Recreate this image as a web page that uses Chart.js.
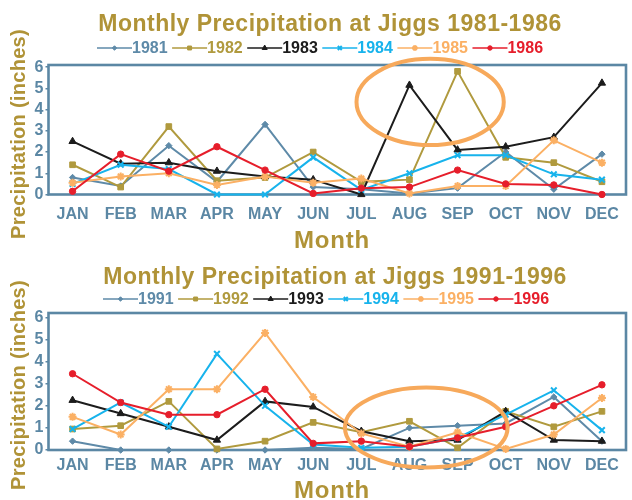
<!DOCTYPE html>
<html>
<head>
<meta charset="utf-8">
<script src="https://cdn.jsdelivr.net/npm/chart.js@4.4.1/dist/chart.umd.min.js"></script>
<style>
  html, body { margin: 0; padding: 0; background: #ffffff; }
  #wrap { position: relative; width: 632px; height: 500px; overflow: hidden; }
  #wrap canvas { position: absolute; left: 0; top: 0; }
</style>
</head>
<body>
<div id="wrap">
  <canvas id="early" width="632" height="500"></canvas>
  <canvas id="late" width="632" height="500"></canvas>
</div>
<script>
// Month labels and y-axis ticks
const months = ['JAN','FEB','MAR','APR','MAY','JUN','JUL','AUG','SEP','OCT','NOV','DEC'];
const yTicks = [0, 1, 2, 3, 4, 5, 6];

// Monthly precipitation (inches), 1981-1986
const years1 = ['1981','1982','1983','1984','1985','1986'];
const p1981 = [0.80, 0.40, 2.30, 0.60, 3.30, 0.35, 0.25, 0.05, 0.30, 2.00, 0.25, 1.90];
const p1982 = [1.40, 0.35, 3.20, 0.65, 0.80, 2.00, 0.60, 0.70, 5.80, 1.75, 1.50, 0.60];
const p1983 = [2.50, 1.45, 1.50, 1.10, 0.85, 0.70, 0.00, 5.15, 2.10, 2.25, 2.70, 5.25];
const p1984 = [0.50, 1.40, 1.20, 0.00, 0.00, 1.75, 0.22, 1.00, 1.85, 1.85, 0.95, 0.70];
const p1985 = [0.55, 0.85, 1.00, 0.45, 0.85, 0.55, 0.75, 0.05, 0.40, 0.40, 2.55, 1.50];
const p1986 = [0.15, 1.90, 1.10, 2.25, 1.15, 0.05, 0.30, 0.35, 1.15, 0.50, 0.45, 0.00];

// Monthly precipitation (inches), 1991-1996
const years2 = ['1991','1992','1993','1994','1995','1996'];
const p1991 = [0.40, 0.00, 0.00, 0.00, 0.00, 0.10, 0.05, 1.00, 1.10, 1.20, 2.40, 0.40];
const p1992 = [0.95, 1.10, 2.20, 0.05, 0.40, 1.25, 0.80, 1.30, 0.10, 1.75, 1.05, 1.75];
const p1993 = [2.25, 1.65, 1.05, 0.45, 2.20, 1.95, 0.85, 0.40, 0.45, 1.75, 0.45, 0.40];
const p1994 = [0.95, 2.15, 1.05, 4.35, 2.00, 0.25, 0.10, 0.15, 0.55, 1.60, 2.70, 0.90];
const p1995 = [1.50, 0.70, 2.75, 2.75, 5.30, 2.40, 0.75, 0.15, 0.80, 0.05, 0.70, 2.35];
const p1996 = [3.45, 2.15, 1.60, 1.60, 2.75, 0.30, 0.40, 0.15, 0.55, 1.05, 2.00, 2.95];

// Highlighted spans: centre month index, centre value, half-width (months), half-height (inches)
const highlight1 = [7.43, 4.36, 1.53, 2.03];
const highlight2 = [7.35, 1.02, 1.69, 1.81];

// Styling
const STEEL = '#5b87a4';
const GOLD = '#b09337';
const seriesColors = ['#5e8aa8', '#b09a3e', '#1c1c1c', '#17b3ec', '#fbb064', '#e61e2b'];
const seriesStyles = ['rectRot', 'rect', 'triangle', 'crossRot', 'star', 'circle'];
const seriesRadius = [3.2, 4, 4.2, 4, 4, 3.2];
const FONT = "'Liberation Sans', Arial, Helvetica, sans-serif";

function buildDatasets(labels, series) {
  return labels.map((lab, i) => ({
    label: lab,
    data: series[i],
    borderColor: seriesColors[i],
    backgroundColor: seriesColors[i],
    pointStyle: seriesStyles[i],
    pointRadius: seriesRadius[i],
    pointBorderWidth: (seriesStyles[i] === 'crossRot' || seriesStyles[i] === 'star') ? 2 : 1,
    borderWidth: 2,
    tension: 0,
    clip: false,
    order: labels.length - i
  }));
}

// Frame, headings, legend, axis names and the highlight ellipse
const decor = {
  id: 'decor',
  beforeDatasetsDraw(chart) {
    const { ctx, chartArea: a } = chart;
    ctx.save();
    ctx.strokeStyle = STEEL;
    ctx.lineWidth = 2.6;
    ctx.strokeRect(a.left, a.top, a.right - a.left, a.bottom - a.top);
    ctx.restore();
  },
  afterDraw(chart, args, o) {
    const { ctx } = chart;
    ctx.save();
    // title
    ctx.fillStyle = GOLD;
    ctx.font = 'bold 23px ' + FONT;
    ctx.textAlign = 'center';
    ctx.textBaseline = 'alphabetic';
    ctx.letterSpacing = '0.5px';
    ctx.fillText(o.title, o.titleX, o.titleY);
    // x axis name
    ctx.font = 'bold 24px ' + FONT;
    ctx.letterSpacing = '0.8px';
    ctx.fillText('Month', o.monthX, o.monthY);
    // y axis name
    ctx.save();
    ctx.translate(o.ylabX, o.ylabY);
    ctx.rotate(-Math.PI / 2);
    ctx.font = 'bold 20px ' + FONT;
    ctx.letterSpacing = '0.3px';
    ctx.textBaseline = 'middle';
    ctx.fillText('Precipitation (inches)', 0, 0);
    ctx.restore();
    ctx.letterSpacing = '0px';
    // legend: line with marker, then the series name
    let x = o.legendX;
    const y = o.legendY;
    chart.data.datasets.forEach(ds => {
      ctx.strokeStyle = ds.borderColor;
      ctx.fillStyle = ds.borderColor;
      ctx.lineWidth = 1.6;
      ctx.beginPath();
      ctx.moveTo(x, y);
      ctx.lineTo(x + 35, y);
      ctx.stroke();
      ctx.lineWidth = ds.pointBorderWidth;
      Chart.helpers.drawPoint(ctx, { pointStyle: ds.pointStyle, radius: ds.pointRadius * 0.7, rotation: 0, borderWidth: ds.pointBorderWidth }, x + 17.5, y);
      ctx.font = 'bold 16px ' + FONT;
      ctx.textAlign = 'left';
      ctx.textBaseline = 'middle';
      ctx.fillText(ds.label, x + 35, y + 1);
      x += 35 + ctx.measureText(ds.label).width + o.legendGap;
    });
    // highlight ellipse
    const h = o.ellipse;
    const xs = chart.scales.x, ys = chart.scales.y;
    const cx = xs.getPixelForValue(h[0]);
    const cy = ys.getPixelForValue(h[1]);
    const rx = Math.abs(xs.getPixelForValue(h[0] + h[2]) - cx);
    const ry = Math.abs(ys.getPixelForValue(h[1] + h[3]) - cy);
    ctx.strokeStyle = '#f7a95b';
    ctx.lineWidth = 4;
    ctx.beginPath();
    ctx.ellipse(cx, cy, rx, ry, 0, 0, Math.PI * 2);
    ctx.stroke();
    ctx.restore();
  }
};

function makeChart(id, labels, series, cfg) {
  return new Chart(document.getElementById(id), {
    type: 'line',
    data: { labels: months, datasets: buildDatasets(labels, series) },
    plugins: [decor],
    options: {
      responsive: false,
      animation: false,
      events: [],
      layout: { padding: { left: 0, right: 2, top: cfg.top, bottom: 500 - cfg.bottom - 30 } },
      scales: {
        x: {
          offset: true,
          grid: { display: false, drawTicks: false },
          border: { display: false },
          ticks: { color: STEEL, font: { family: FONT, size: 16, weight: 'bold' }, padding: cfg.xPad, autoSkip: false, maxRotation: 0 },
          afterFit(s) { s.height = 30; }
        },
        y: {
          min: 0,
          max: cfg.max,
          afterBuildTicks(s) { s.ticks = yTicks.map(v => ({ value: v })); },
          grid: { drawOnChartArea: false, drawTicks: true, tickLength: 3, color: STEEL, lineWidth: 1.5 },
          border: { display: false },
          ticks: { color: STEEL, font: { family: FONT, size: 16, weight: 'bold' }, padding: 2, autoSkip: false },
          afterFit(s) { s.width = 48.5; }
        }
      },
      plugins: {
        legend: { display: false },
        tooltip: { enabled: false },
        title: { display: false },
        decor: cfg.decor
      }
    }
  });
}

makeChart('early', years1, [p1981, p1982, p1983, p1984, p1985, p1986], {
  top: 65, bottom: 194.5, max: 6.1, xPad: 10,
  decor: { title: 'Monthly Precipitation at Jiggs 1981-1986', titleX: 330, titleY: 31,
           legendX: 97, legendY: 48, legendGap: 4.5,
           monthX: 332, monthY: 248, ylabX: 19, ylabY: 134, ellipse: highlight1 }
});

makeChart('late', years2, [p1991, p1992, p1993, p1994, p1995, p1996], {
  top: 313, bottom: 450, max: 6.2, xPad: 6,
  decor: { title: 'Monthly Precipitation at Jiggs 1991-1996', titleX: 335, titleY: 284,
           legendX: 103, legendY: 299, legendGap: 4.5,
           monthX: 332, monthY: 498, ylabX: 19, ylabY: 385, ellipse: highlight2 }
});
</script>
</body>
</html>
